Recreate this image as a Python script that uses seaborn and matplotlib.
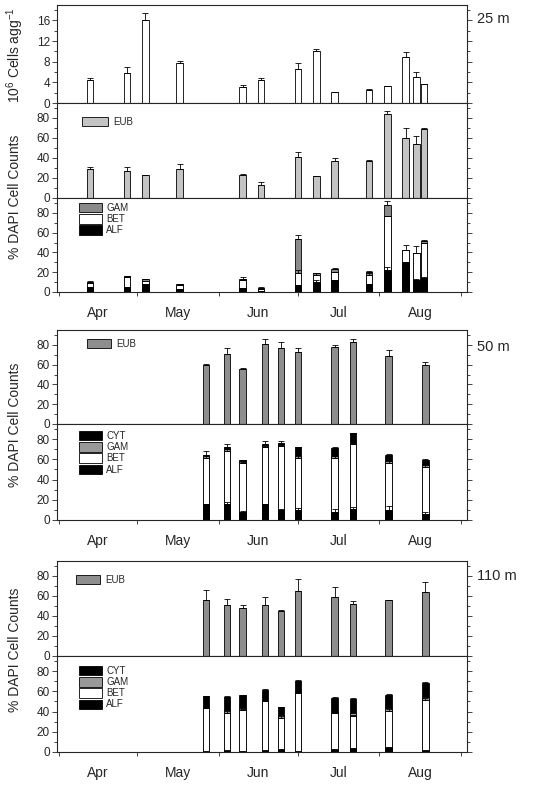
import numpy as np
import matplotlib
matplotlib.use("Agg")
import matplotlib.pyplot as plt
import seaborn as sns
from matplotlib.patches import Patch
from matplotlib.ticker import MultipleLocator

# sampling days, counted from 1 April
days_25 = [12, 26, 33, 46, 70, 77, 91, 98, 105, 118, 125, 132, 136, 139]
days_deep = [56, 64, 70, 78.5, 84.5, 91, 105, 112, 125.5, 139.5]

# 25 m
cells_25 = [4.4, 5.9, 16.1, 7.8, 3.1, 4.5, 6.6, 10.0, 2.1, 2.6, 3.2, 8.9, 5.1, 3.6]
cells_25_err = [0.4, 1.0, 1.4, 0.4, 0.4, 0.4, 1.2, 0.5, 0.1, 0.1, 0.1, 0.9, 0.9, 0.05]
eub_25 = [29, 27, 22.7, 29, 23, 13, 41, 22, 37, 37, 84, 60, 54, 69.5]
eub_25_err = [2, 4, 0.2, 5.5, 0.8, 3, 5, 0.3, 2.7, 0.7, 3.5, 10, 8, 0.3]
alf_25 = [5, 5.5, 8, 3, 4, 1.5, 7, 10, 12.5, 8.5, 22, 30, 12, 14]
bet_25 = [4.5, 9.5, 3.5, 4, 8.5, 2, 12, 7, 7.5, 8.5, 55, 12, 27, 36]
gam_25 = [1, 1, 1.5, 1, 0.5, 1, 35, 2, 3.5, 3, 10.5, 0.5, 0.5, 2]
top_25_err = [0.5, 0.5, 0.5, 0.5, 2, 0.5, 3.5, 0.5, 0.5, 1, 4.5, 5.5, 7, 0.5]
bet_25_err = [0, 0, 0, 0, 0, 0, 3, 2, 0, 2, 0, 0, 0, 0]
alf_25_err = [0, 0, 0, 0, 0, 0, 0.5, 2, 0, 0, 3, 0, 1.5, 1.5]

# 50 m
eub_50 = [60, 70.5, 56, 81, 76.5, 72.5, 78, 82.7, 68.4, 60]
eub_50_err = [0.5, 6.5, 0.2, 4.7, 6, 4, 2, 2.7, 6.4, 3]
alf_50 = [16, 16, 8, 15.5, 10, 10, 8, 11, 9.5, 6]
bet_50 = [45, 52, 48.5, 57, 63, 51, 53, 64, 47, 46]
gam_50 = [2, 2, 1.5, 1.5, 1.5, 2, 2, 1, 2, 2]
cyt_50 = [1, 2, 1, 1, 1.5, 9, 8.5, 10, 6, 5]
top_50_err = [4, 3, 0.5, 3, 2, 0.5, 0.5, 0.5, 1, 1]
bet_50_err = [3, 2, 0.5, 0.5, 2, 3, 2, 11, 3, 3]
alf_50_err = [0, 2, 1, 0, 1, 2, 3, 2, 4, 1.5]

# 110 m
eub_110 = [56.5, 50.7, 48, 50.7, 44.6, 65, 59, 52.4, 56, 64]
eub_110_err = [10, 6.7, 3.4, 8.4, 1, 12.5, 10, 2.6, 0.4, 10]
alf_110 = [0.7, 2, 1, 2, 3, 0.7, 3, 4, 5, 2]
bet_110 = [42.5, 37, 41, 48.5, 31, 57.5, 36, 31.5, 36, 49.5]
gam_110 = [1.5, 2.5, 2, 1, 3, 1.5, 0.5, 3, 3, 2.5]
cyt_110 = [10.5, 13, 12, 10, 7.5, 11, 14, 13.5, 12, 14.5]
top_110_err = [0.5, 0.5, 0.5, 0.5, 0.5, 0.5, 0.5, 1, 1, 1]
bet_110_err = [1, 1.5, 0.5, 0.5, 1.5, 1, 0.5, 1.5, 1.5, 1.5]

month_starts = [0, 30, 61, 91, 122, 153]
month_mids = [15, 45.5, 76, 106.5, 137.5]
month_names = ["Apr", "May", "Jun", "Jul", "Aug"]

sns.set_style("ticks")
plt.rcParams["font.family"] = ["Liberation Sans", "DejaVu Sans"]
plt.rcParams["mathtext.default"] = "regular"

W, H = 542, 791
fig = plt.figure(figsize=(W / 100, H / 100), dpi=100)


def make_ax(top, bottom):
    return fig.add_axes([57 / W, 1 - bottom / H, 410 / W, (bottom - top) / H])


def bars(ax, days, vals, color, bar_w=2.5):
    w = bar_w / np.min(np.diff(days))
    sns.barplot(x=days, y=vals, native_scale=True, orient="x", color=color,
                saturation=1, edgecolor="black", linewidth=0.6, width=w,
                errorbar=None, ax=ax)


def errs(ax, days, tops, err):
    err = np.asarray(err)
    ax.errorbar(days, tops, yerr=[np.zeros(len(err)), err], fmt="none",
                ecolor="black", elinewidth=0.6, capsize=2.2, capthick=0.6, zorder=5)


def stacked(ax, days, layers, colors):
    cum = np.cumsum(np.array(layers), axis=0)
    for i in range(len(layers) - 1, -1, -1):
        bars(ax, days, cum[i], colors[i])
    return cum


def style(ax, ymax, major, minor, labels=False):
    ax.set_xlim(-0.6, 155.3)
    ax.set_ylim(0, ymax)
    ax.set_xticks(month_starts)
    ax.set_xticklabels([])
    ax.set_xticks(month_mids, minor=True)
    if labels:
        ax.set_xticklabels(month_names, minor=True, fontsize=10)
    else:
        ax.set_xticklabels([""] * 5, minor=True)
    ax.tick_params(axis="x", which="major", direction="out", length=3, width=0.6)
    ax.tick_params(axis="x", which="minor", length=0, pad=10)
    ax.yaxis.set_major_locator(MultipleLocator(major))
    ax.yaxis.set_minor_locator(MultipleLocator(minor))
    ax.tick_params(axis="y", which="both", left=True, right=True, direction="out",
                   labelsize=8.5, width=0.6, pad=1.5)
    ax.tick_params(axis="y", which="major", length=3.5)
    ax.tick_params(axis="y", which="minor", length=2)
    ax.set_xlabel("")
    ax.set_ylabel("")
    for s in ax.spines.values():
        s.set_visible(True)
        s.set_linewidth(0.8)


def legend(ax, labels, colors, anchor, hl=2.3):
    handles = [Patch(facecolor=c, edgecolor="black", linewidth=0.6) for c in colors]
    ax.legend(handles, labels, loc="upper left", bbox_to_anchor=anchor, frameon=False,
              fontsize=7, handlelength=hl, handleheight=1.1, handletextpad=0.5,
              labelspacing=0.12, borderpad=0, borderaxespad=0)


light_gray = "#c4c4c4"
dark_gray = "#8e8e8e"
gam_gray = "#8a8a8a"

# ---- 25 m ----
ax = make_ax(5, 103)
bars(ax, days_25, cells_25, "white")
errs(ax, days_25, cells_25, cells_25_err)
style(ax, 19, 4, 2)

ax = make_ax(103, 198)
bars(ax, days_25, eub_25, light_gray)
errs(ax, days_25, eub_25, eub_25_err)
style(ax, 95, 20, 10)
legend(ax, ["EUB"], [light_gray], (0.061, 0.853), hl=2.7)

ax = make_ax(198, 292)
cum = stacked(ax, days_25, [alf_25, bet_25, gam_25], ["black", "white", gam_gray])
errs(ax, days_25, cum[0], alf_25_err)
errs(ax, days_25, cum[1], bet_25_err)
errs(ax, days_25, cum[2], top_25_err)
style(ax, 95, 20, 10, labels=True)
legend(ax, ["GAM", "BET", "ALF"], [gam_gray, "white", "black"], (0.054, 0.947))

# ---- 50 m ----
ax = make_ax(330, 424)
bars(ax, days_deep, eub_50, dark_gray)
errs(ax, days_deep, eub_50, eub_50_err)
style(ax, 95, 20, 10)
legend(ax, ["EUB"], [dark_gray], (0.073, 0.904), hl=2.5)

ax = make_ax(424, 520)
cum = stacked(ax, days_deep, [alf_50, bet_50, gam_50, cyt_50],
              ["black", "white", "#999999", "black"])
errs(ax, days_deep, cum[0], alf_50_err)
errs(ax, days_deep, cum[1], bet_50_err)
errs(ax, days_deep, cum[3], top_50_err)
style(ax, 95, 20, 10, labels=True)
legend(ax, ["CYT", "GAM", "BET", "ALF"], ["black", "#999999", "white", "black"],
       (0.054, 0.927))

# ---- 110 m ----
ax = make_ax(561, 656)
bars(ax, days_deep, eub_110, dark_gray)
errs(ax, days_deep, eub_110, eub_110_err)
style(ax, 95, 20, 10)
legend(ax, ["EUB"], [dark_gray], (0.046, 0.853), hl=2.5)

ax = make_ax(656, 752)
cum = stacked(ax, days_deep, [alf_110, bet_110, gam_110, cyt_110],
              ["black", "white", "#999999", "black"])
errs(ax, days_deep, cum[1], bet_110_err)
errs(ax, days_deep, cum[3], top_110_err)
style(ax, 95, 20, 10, labels=True)
legend(ax, ["CYT", "GAM", "BET", "ALF"], ["black", "#999999", "white", "black"],
       (0.054, 0.896))

# axis titles and depth labels
fig.text(15 / W, 1 - 55 / H, "10$^6$ Cells agg$^{-1}$", rotation=90,
         ha="center", va="center", fontsize=10)
for yc in [197, 425, 650]:
    fig.text(15 / W, 1 - yc / H, "% DAPI Cell Counts", rotation=90,
             ha="center", va="center", fontsize=10)
for txt, yc in [("25 m", 19), ("50 m", 347), ("110 m", 576)]:
    fig.text(477 / W, 1 - yc / H, txt, ha="left", va="center", fontsize=10.5)

fig.savefig("out.png", dpi=100)
